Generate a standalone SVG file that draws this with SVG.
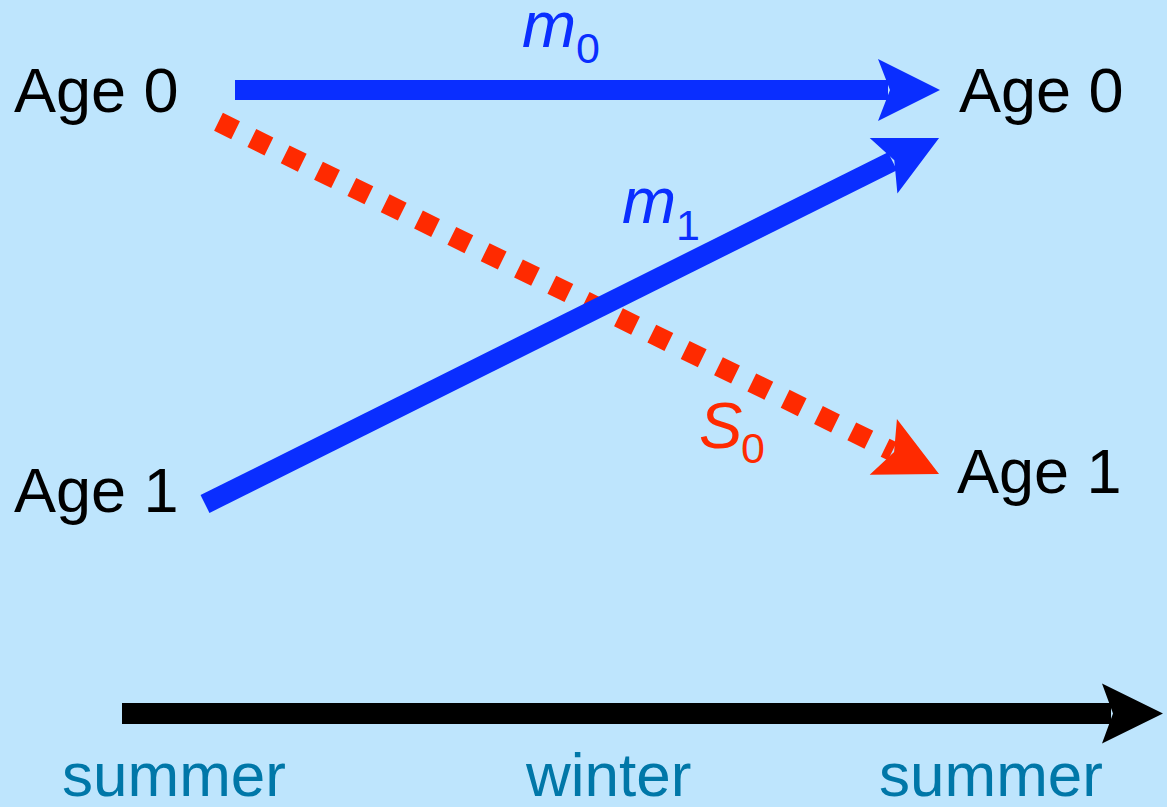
<svg xmlns="http://www.w3.org/2000/svg" width="1167" height="807" viewBox="0 0 1167 807">
<style>
.lbl{font-family:"Liberation Sans",Arial,sans-serif;font-size:63px;fill:#000}
.sym{font-family:"Liberation Sans",Arial,sans-serif;font-size:65px;font-style:italic}
.sub{font-size:43px;font-style:normal}
.season{font-family:"Liberation Sans",Arial,sans-serif;font-size:62px;fill:#0077A8}
.blue{fill:#0A2EFF}
.red{fill:#FF2A00}
</style>
<defs>
<marker id="hb" markerUnits="userSpaceOnUse" markerWidth="70" markerHeight="70" refX="0" refY="0" orient="auto" overflow="visible"><path d="M52,0 L-10,-31 L2,0 L-10,31 Z" fill="#0A2EFF"/></marker>
<marker id="hr" markerUnits="userSpaceOnUse" markerWidth="70" markerHeight="70" refX="0" refY="0" orient="auto" overflow="visible"><path d="M52,0 L-10,-31 L2,0 L-10,31 Z" fill="#FF2A00"/></marker>
<marker id="hk" markerUnits="userSpaceOnUse" markerWidth="70" markerHeight="70" refX="0" refY="0" orient="auto" overflow="visible"><path d="M52,0 L-9,-30 L2,0 L-9,30 Z" fill="#000"/></marker>
</defs>
<rect width="1167" height="807" fill="#BEE5FD"/>
<g id="connectors">
<line id="m0" x1="235" y1="90" x2="888" y2="90" stroke="#0A2EFF" stroke-width="20" marker-end="url(#hb)"/>
<line id="s0" x1="218.5" y1="121.8" x2="892.3" y2="451.2" stroke="#FF2A00" stroke-width="20" stroke-dasharray="19 18.1" marker-end="url(#hr)"/>
<line id="m1" x1="205" y1="504" x2="892.5" y2="161.2" stroke="#0A2EFF" stroke-width="20" marker-end="url(#hb)"/>
<line id="time" x1="122" y1="713.5" x2="1111" y2="713.5" stroke="#000" stroke-width="21" marker-end="url(#hk)"/>
</g>
<g id="age0-left"><text class="lbl" x="14" y="112">Age 0</text></g>
<g id="age1-left"><text class="lbl" x="14" y="512">Age 1</text></g>
<g id="age0-right"><text class="lbl" x="959" y="112">Age 0</text></g>
<g id="age1-right"><text class="lbl" x="957" y="493">Age 1</text></g>
<g id="label-m0"><text class="sym blue" x="522" y="47">m<tspan class="sub" x="576" y="63">0</tspan></text></g>
<g id="label-m1"><text class="sym blue" x="622" y="223">m<tspan class="sub" x="676" y="240">1</tspan></text></g>
<g id="label-s0"><text class="sym red" x="699" y="448">S<tspan class="sub" x="741" y="463">0</tspan></text></g>
<g id="seasons">
<text class="season" x="62" y="796">summer</text>
<text class="season" x="526" y="796">winter</text>
<text class="season" x="879" y="796">summer</text>
</g>
</svg>
